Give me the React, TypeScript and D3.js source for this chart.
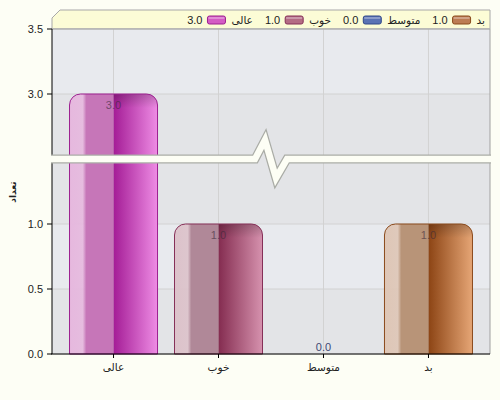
import React, { useRef, useEffect } from "react";
import * as d3 from "d3";

// chart data
const categories = ["عالی", "خوب", "متوسط", "بد"];
const counts = [3, 1, 0, 1];
const lowerTicks = [0, 0.5, 1.0];
const upperTicks = [3.0, 3.5];
const breakFrom = 1.5;
const breakTo = 2.5;
const axisTitle = "تعداد";

// per-category colours (swatch, light, mid, dark, bright, stroke)
const palette = [
  { swatch: "#d45cc4", light: "#e6b8de", mid: "#c676b8", dark: "#a41c96", bright: "#ee8ce4", stroke: "#9c2090" },
  { swatch: "#b46c84", light: "#dcc2ca", mid: "#b08898", dark: "#842c50", bright: "#d692ae", stroke: "#863058" },
  { swatch: "#5a72b4", light: "#b8c4e0", mid: "#8090c0", dark: "#2c4490", bright: "#8aa0e0", stroke: "#30488a" },
  { swatch: "#bc7c54", light: "#dec6b6", mid: "#b89478", dark: "#8c4414", bright: "#e6a676", stroke: "#8a4a1c" },
];

const W = 500;
const H = 400;
const left = 52;
const right = 490;
const top = 29;
const bottom = 354;
const breakY = 159;
const font = "'Liberation Sans', 'DejaVu Sans', sans-serif";

const yLower = d3.scaleLinear().domain([0, breakFrom]).range([bottom, breakY]);
const yUpper = d3.scaleLinear().domain([breakTo, 3.5]).range([breakY, top]);
const y = (v: number) => (v <= breakFrom ? yLower(v) : yUpper(v));

const x = d3.scalePoint<string>().domain(categories).range([left, right]).padding(0.586);
const barW = 88;
const fmt = d3.format(".1f");

function topRounded(x0: number, y0: number, w: number, y1: number, r: number) {
  const rr = Math.min(r, (y1 - y0) / 2, w / 2);
  const p = d3.path();
  p.moveTo(x0, y1);
  p.lineTo(x0, y0 + rr);
  p.arcTo(x0, y0, x0 + rr, y0, rr);
  p.lineTo(x0 + w - rr, y0);
  p.arcTo(x0 + w, y0, x0 + w, y0 + rr, rr);
  p.lineTo(x0 + w, y1);
  p.closePath();
  return p.toString();
}

const App: React.FC = () => {
  const legendRef = useRef<SVGGElement | null>(null);

  useEffect(() => {
    const g = d3.select(legendRef.current);
    g.selectAll("*").remove();
    let cursor = 485;
    for (let i = categories.length - 1; i >= 0; i--) {
      const lab = g
        .append("text")
        .attr("x", cursor)
        .attr("y", 24)
        .attr("text-anchor", "end")
        .attr("font-size", 10.5)
        .attr("fill", "#222")
        .text(categories[i]);
      cursor -= (lab.node() as SVGTextElement).getComputedTextLength() + 6;
      g.append("rect")
        .attr("x", cursor - 18)
        .attr("y", 16)
        .attr("width", 18)
        .attr("height", 8)
        .attr("rx", 2)
        .attr("fill", palette[i].swatch)
        .attr("stroke", palette[i].stroke)
        .attr("stroke-width", 1);
      g.append("rect")
        .attr("x", cursor - 17)
        .attr("y", 17)
        .attr("width", 16)
        .attr("height", 2)
        .attr("fill", "#fff")
        .attr("opacity", 0.3);
      cursor -= 18 + 5;
      const val = g
        .append("text")
        .attr("x", cursor)
        .attr("y", 24)
        .attr("text-anchor", "end")
        .attr("font-size", 11)
        .attr("fill", "#222")
        .text(fmt(counts[i]));
      cursor -= (val.node() as SVGTextElement).getComputedTextLength() + 12;
    }
  }, []);

  const bands: { lo: number; hi: number; dark: boolean }[] = [];
  d3.range(0, breakFrom, 0.5).forEach((v, i) => bands.push({ lo: v, hi: v + 0.5, dark: i % 2 === 0 }));
  d3.range(breakTo, 3.5, 0.5).forEach((v, i) => bands.push({ lo: v, hi: v + 0.5, dark: i % 2 === 0 }));

  const zig = [
    [left - 1, breakY],
    [255, breakY],
    [265, 140],
    [276, 178],
    [287, breakY],
    [right + 1, breakY],
  ] as [number, number][];
  const zigPath = d3.line()(zig) as string;

  return (
    <svg
      width={W}
      height={H}
      style={{ position: "absolute", left: 0, top: 0, fontFamily: font }}
    >
      <defs>
        {palette.map((c, i) => (
          <React.Fragment key={i}>
            <linearGradient id={`lh${i}`} x1="0" x2="1" y1="0" y2="0">
              <stop offset="0" stopColor={c.light} />
              <stop offset="0.3" stopColor={c.light} stopOpacity={0.9} />
              <stop offset="0.38" stopColor={c.mid} />
              <stop offset="1" stopColor={c.mid} />
            </linearGradient>
            <linearGradient id={`rh${i}`} x1="0" x2="1" y1="0" y2="0">
              <stop offset="0" stopColor={c.dark} />
              <stop offset="1" stopColor={c.bright} />
            </linearGradient>
          </React.Fragment>
        ))}
        <linearGradient id="topShade" x1="0" x2="0" y1="0" y2="1">
          <stop offset="0" stopColor="#000" stopOpacity={0.2} />
          <stop offset="1" stopColor="#000" stopOpacity={0} />
        </linearGradient>
      </defs>

      <rect width={W} height={H} fill="#fdfef5" />

      {/* legend bar */}
      <path
        d={`M${left},${top} L${left},18 L${left + 8},10 L${right},10 L${right},${top} Z`}
        fill="#fcfcd6"
        stroke="#a8a8a8"
      />
      <g ref={legendRef} style={{ fontFamily: font }} />

      {/* plot background */}
      {bands.map((b, i) => (
        <rect
          key={i}
          x={left}
          y={y(b.hi)}
          width={right - left}
          height={y(b.lo) - y(b.hi)}
          fill={b.dark ? "#e3e4e7" : "#e8eaee"}
        />
      ))}

      {/* grid */}
      {[...lowerTicks, ...upperTicks].map((t) => (
        <line key={t} x1={left} x2={right} y1={y(t)} y2={y(t)} stroke="#d2d2d2" />
      ))}
      {categories.map((c) => (
        <line key={c} x1={x(c)} x2={x(c)} y1={top} y2={bottom} stroke="#d2d2d2" />
      ))}

      {/* bars */}
      {categories.map((c, i) => {
        if (counts[i] <= 0) return null;
        const cx = x(c)!;
        const x0 = cx - barW / 2;
        const y0 = y(counts[i]);
        const d = topRounded(x0, y0, barW, bottom, 11);
        return (
          <g key={c}>
            <clipPath id={`clip${i}`}>
              <path d={d} />
            </clipPath>
            <g clipPath={`url(#clip${i})`}>
              <rect x={x0} y={y0} width={barW / 2} height={bottom - y0} fill={`url(#lh${i})`} />
              <rect x={cx} y={y0} width={barW / 2} height={bottom - y0} fill={`url(#rh${i})`} />
              <rect x={cx} y={y0} width={barW / 2} height={14} fill="url(#topShade)" />
            </g>
            <path d={d} fill="none" stroke={palette[i].stroke} strokeWidth={1} />
          </g>
        );
      })}

      {/* value labels */}
      {categories.map((c, i) => (
        <text
          key={c}
          x={x(c)}
          y={counts[i] > 0 ? y(counts[i]) + 15 : y(counts[i]) - 3}
          textAnchor="middle"
          fontSize={11}
          fill={counts[i] > 0 ? "#3a2a3a" : "#2c3668"}
          opacity={counts[i] > 0 ? 0.6 : 0.9}
        >
          {fmt(counts[i])}
        </text>
      ))}

      {/* frame */}
      <line x1={left} x2={right} y1={top} y2={top} stroke="#a0a0a0" />
      <line x1={right} x2={right} y1={top} y2={bottom} stroke="#a0a0a0" />
      <line x1={left} x2={left} y1={top} y2={bottom} stroke="#000" />
      <line x1={left - 1} x2={right} y1={bottom} y2={bottom} stroke="#000" />

      {/* axis break */}
      <path d={zigPath} fill="none" stroke="#aaaca6" strokeWidth={9} strokeLinejoin="miter" />
      <path d={zigPath} fill="none" stroke="#fdfef5" strokeWidth={6.5} strokeLinejoin="miter" />

      {/* y ticks */}
      {[...lowerTicks, ...upperTicks].map((t) => (
        <g key={t}>
          <line x1={left - 5} x2={left} y1={y(t)} y2={y(t)} stroke="#000" />
          <text x={43} y={y(t) + 4} textAnchor="end" fontSize={11} fill="#222">
            {fmt(t)}
          </text>
        </g>
      ))}

      {/* x ticks */}
      {categories.map((c) => (
        <g key={c}>
          <line x1={x(c)} x2={x(c)} y1={bottom} y2={bottom + 4} stroke="#000" />
          <text x={x(c)} y={371} textAnchor="middle" fontSize={10.5} fill="#222">
            {c}
          </text>
        </g>
      ))}

      <text
        transform={`translate(16, 192) rotate(-90)`}
        textAnchor="middle"
        fontSize={9}
        fontWeight="bold"
        fill="#222"
      >
        {axisTitle}
      </text>
    </svg>
  );
};

export default App;
